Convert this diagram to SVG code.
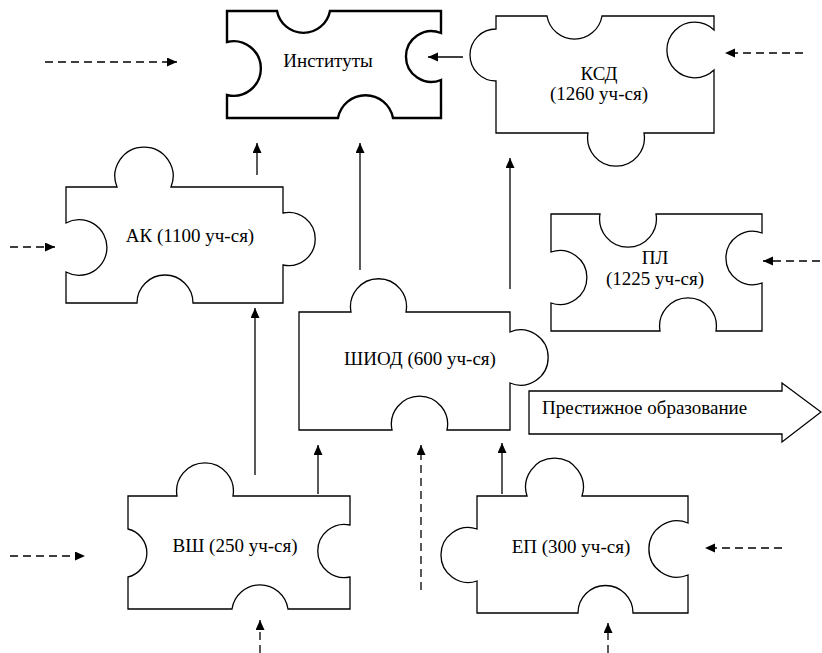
<svg xmlns="http://www.w3.org/2000/svg" width="822" height="653" viewBox="0 0 822 653">
<style>
.piece{fill:#fff;stroke:#000;stroke-width:1.3;stroke-linejoin:miter}
.thick{stroke-width:2.4}
.lbl{font-family:"Liberation Serif","Times New Roman",serif;font-size:19px;fill:#000;text-anchor:middle}
.solid{stroke:#000;stroke-width:1.3;fill:none;marker-end:url(#ah)}
.dash{stroke:#000;stroke-width:1.3;fill:none;stroke-dasharray:8 5;marker-end:url(#ah)}
</style>
<defs>
<marker id="ah" markerUnits="userSpaceOnUse" markerWidth="10" markerHeight="10" refX="10" refY="4.5" orient="auto">
<path d="M0,0 L10,4.5 L0,9 Z" fill="#000"/>
</marker>
</defs>
<rect width="822" height="653" fill="#fff"/>

<g id="instituty">
<path class="piece thick" d="M227,11 L277,11 A27,27 0 0 0 330,11 L441,11 L441,33 A25.4,25.4 0 1 0 441,80 L441,118 L393,118 A28,28 0 0 0 338,118 L227,118 L227,95 A27.3,27.3 0 1 0 227,42 Z"/>
<text class="lbl" x="328" y="67">Институты</text>
</g>

<g id="ksd">
<path class="piece" d="M496,16 L547,16 A27.9,27.9 0 0 0 602,16 L714,16 L714,30 A27.8,27.8 0 1 0 714,70 L714,133 L644,133 A28.4,28.4 0 1 1 588,133 L496,133 L496,81 A26,26 0 1 1 496,29 Z"/>
<text class="lbl" x="599" y="80">КСД</text>
<text class="lbl" x="599" y="100">(1260 уч-ся)</text>
</g>

<g id="ak">
<path class="piece" d="M66,187 L117,187 A29.1,29.1 0 1 1 171,187 L283,187 L283,213 A26.6,26.6 0 1 1 283,265 L283,303 L193,303 A28,28 0 0 0 137,303 L66,303 L66,272 A27.8,27.8 0 1 0 66,223 Z"/>
<text class="lbl" x="190" y="242">АК (1100 уч-ся)</text>
</g>

<g id="pl">
<path class="piece" d="M551,214 L600,214 A28.4,28.4 0 1 0 656,214 L762,214 L762,233 A26.7,26.7 0 1 0 762,283 L762,331 L716,331 A28.4,28.4 0 1 0 660,331 L551,331 L551,303 A27,27 0 1 0 551,252 Z"/>
<text class="lbl" x="655" y="264">ПЛ</text>
<text class="lbl" x="655" y="285">(1225 уч-ся)</text>
</g>

<g id="shiod">
<path class="piece" d="M299,312 L351,312 A28,28 0 1 1 406,312 L510,312 L510,332 A27.6,27.6 0 1 1 510,383 L510,430 L447,430 A28.1,28.1 0 1 0 392,430 L299,430 Z"/>
<text class="lbl" x="420" y="365">ШИОД (600 уч-ся)</text>
</g>

<g id="vsh">
<path class="piece" d="M128,496 L177,496 A28.4,28.4 0 1 1 233,496 L350,496 L350,525 A26.6,26.6 0 1 0 350,577 L350,609 L288,609 A28.3,28.3 0 0 0 232,609 L128,609 L128,577 A24.7,24.7 0 0 0 128,529 Z"/>
<text class="lbl" x="235" y="552">ВШ (250 уч-ся)</text>
</g>

<g id="ep">
<path class="piece" d="M477,496 L527,496 A28.9,28.9 0 1 1 582,496 L688,496 L688,523 A28.2,28.2 0 1 0 688,575 L688,613 L633,613 A27.5,27.5 0 1 0 578,613 L477,613 L477,581 A27.4,27.4 0 1 1 477,529 Z"/>
<text class="lbl" x="571" y="553">ЕП (300 уч-ся)</text>
</g>

<g id="prestige">
<path class="piece" d="M529,391 L782,391 L782,383 L821,412 L782,442 L782,434 L529,434 Z"/>
<text class="lbl" x="542" y="414" style="text-anchor:start">Престижное образование</text>
</g>

<g id="connectors">
<line class="dash" x1="45" y1="62" x2="177" y2="62"/>
<line class="solid" x1="463" y1="57" x2="428" y2="57"/>
<line class="dash" x1="803" y1="53" x2="725" y2="53"/>
<line class="solid" x1="257" y1="175" x2="257" y2="143"/>
<line class="solid" x1="360" y1="270" x2="360" y2="143"/>
<line class="solid" x1="510" y1="289" x2="510" y2="158"/>
<line class="dash" x1="10" y1="247" x2="55" y2="247"/>
<line class="dash" x1="820" y1="261" x2="763" y2="261"/>
<line class="solid" x1="255" y1="475" x2="255" y2="308"/>
<line class="solid" x1="318" y1="494" x2="318" y2="445"/>
<line class="dash" x1="421" y1="590" x2="421" y2="445"/>
<line class="solid" x1="502" y1="494" x2="502" y2="443"/>
<line class="dash" x1="10" y1="556" x2="85" y2="556"/>
<line class="dash" x1="260" y1="653" x2="260" y2="620"/>
<line class="dash" x1="782" y1="548" x2="705" y2="548"/>
<line class="dash" x1="608" y1="653" x2="608" y2="623"/>
</g>
</svg>
